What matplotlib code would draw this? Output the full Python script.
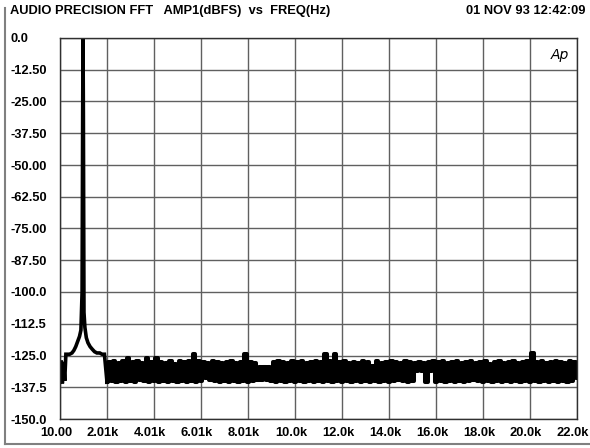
import numpy as np
import matplotlib.pyplot as plt
import matplotlib.transforms as mtransforms
from matplotlib.lines import Line2D

# ----- Dati -----

title_left = "AUDIO PRECISION FFT   AMP1(dBFS)  vs  FREQ(Hz)"
title_right = "01 NOV 93 12:42:09"

x_ticks = [10, 2010, 4010, 6010, 8010, 10010, 12010, 14010, 16010, 18010, 20010, 22010]
x_labels = ["10.00", "2.01k", "4.01k", "6.01k", "8.01k", "10.0k", "12.0k",
            "14.0k", "16.0k", "18.0k", "20.0k", "22.0k"]
y_ticks = [0, -12.5, -25, -37.5, -50, -62.5, -75, -87.5, -100, -112.5, -125, -137.5, -150]
y_labels = ["0.0", "-12.50", "-25.00", "-37.50", "-50.00", "-62.50", "-75.00",
            "-87.50", "-100.0", "-112.5", "-125.0", "-137.5", "-150.0"]

# tono a 1 kHz (zona del picco)
peak_freq = [10, 60, 110, 160, 210, 260, 330, 420, 520, 600, 680, 760, 840,
             900, 950, 975, 990, 1005, 1030, 1070, 1130, 1200, 1290, 1380,
             1480, 1580, 1700, 1800, 1900, 2010]
peak_db = [-135.5, -127, -136, -127.5, -135, -124.5, -124.5, -124.5, -124,
           -123, -121.5, -119.5, -117.5, -115, -100, -30, 0, -30, -108, -114,
           -118, -120, -121.5, -122.5, -123.5, -124, -124, -124.5, -124.5, -135.5]

# rumore di fondo, bin da 100 Hz a partire da 2.01 kHz
noise_start = 2010
noise_step = 100
noise_db = [
    -135.5, -127.5, -135, -127, -135.5, -128, -135, -127, -135.5, -126,
    -135, -127.5, -135.5, -127, -134.5, -128, -135, -125.8, -135.5, -127.5,
    -135, -125.8, -135.5, -127.5, -135, -128, -135.5, -127, -135, -128.5,
    -135.5, -127, -135, -127.5, -135.5, -127, -135, -124.5, -135.5, -127,
    -135, -127.5, -134, -128, -134.5, -127, -135, -127.5, -135.5, -128,
    -135, -127.5, -135.5, -127, -135, -128, -135.5, -127.5, -135, -124.5,
    -135.5, -127.5, -135, -128, -134.5, -129.5, -134.5, -129.5, -134.5, -129.5,
    -135, -127.5, -135.5, -127, -135, -127.5, -135.5, -128, -135, -127,
    -135.5, -127.5, -135, -127, -135.5, -128, -135, -127.5, -135.5, -127,
    -135, -127.5, -135.5, -124.5, -135, -127, -135.5, -124.5, -135, -127.5,
    -135.5, -127, -135, -128, -135.5, -127.5, -135, -128, -135.5, -127,
    -135, -127.5, -135.5, -129, -135, -127, -135.5, -128, -135, -127.5,
    -135.5, -127, -135, -127.5, -134.5, -128, -135, -127, -135.5, -127.5,
    -135, -128, -131, -127.5, -131, -128, -135.5, -127.5, -131, -127,
    -135.5, -127.5, -135, -127, -135.5, -128, -135, -127.5, -135.5, -127,
    -135, -128, -135.5, -127.5, -135, -127, -134.5, -128, -135, -127.5,
    -135.5, -127, -135, -128.5, -135.5, -127.5, -135, -127, -135.5, -128,
    -135, -127.5, -135.5, -127, -135, -128, -135.5, -127.5, -135, -127,
    -135.5, -124, -135, -127.5, -135.5, -127, -135, -128, -135.5, -127.5,
    -135, -127, -135.5, -127.5, -135, -128, -135.5, -127, -135, -127.5,
    -134,
]

# ----- Grafico -----

def main():
    plt.rcParams['font.family'] = ['Liberation Sans', 'DejaVu Sans']
    fs = 9.3

    fig = plt.figure(figsize=(5.9, 4.48), dpi=100)
    ax = fig.add_axes([60/590, 1 - 419/448, 517/590, 381/448])

    noise_freq = noise_start + noise_step * np.arange(len(noise_db))

    ax.plot(peak_freq, peak_db, color="black", lw=2.6, solid_joinstyle="miter")
    ax.plot(noise_freq, noise_db, color="black", lw=2.9, drawstyle="steps-mid")

    ax.set_xlim(10, 22010)
    ax.set_ylim(-150, 0)
    ax.set_xticks(x_ticks)
    ax.set_xticklabels([])
    ax.set_yticks(y_ticks)
    ax.set_yticklabels(y_labels, fontsize=fs, fontweight="bold")
    for lab in ax.get_yticklabels():
        lab.set_horizontalalignment("left")
    ax.tick_params(axis="y", length=0, pad=36)
    ax.tick_params(axis="x", length=0)

    # etichette x leggermente spostate a sinistra, come nell'originale
    shift = mtransforms.ScaledTranslation(-4/100, -8/100, fig.dpi_scale_trans)
    for xt, lab in zip(x_ticks, x_labels):
        ax.text(xt, 0, lab, transform=ax.get_xaxis_transform() + shift,
                ha="center", va="top", fontsize=fs, fontweight="bold")

    ax.grid(color="#606060", lw=1.0)
    for s in ax.spines.values():
        s.set_color("#303030")
        s.set_linewidth(1.0)

    ax.text(0.985, 0.975, "Ap", transform=ax.transAxes, ha="right", va="top",
            fontsize=10, style="italic", fontfamily="DejaVu Sans")

    fig.text(10/590, 1 - 11/448, title_left, ha="left", va="center",
             fontsize=fs, fontweight="bold")
    fig.text(585/590, 1 - 11/448, title_right, ha="right", va="center",
             fontsize=fs, fontweight="bold")

    # cornice esterna
    fig.add_artist(Line2D([5/590, 5/590], [1 - 8/448, 1 - 444/448],
                          transform=fig.transFigure, color="#808080", lw=1.5))
    fig.add_artist(Line2D([5/590, 1], [1 - 444/448, 1 - 444/448],
                          transform=fig.transFigure, color="#808080", lw=1.5))

    plt.savefig("out.png", dpi=100)

if __name__ == '__main__':
    main()
